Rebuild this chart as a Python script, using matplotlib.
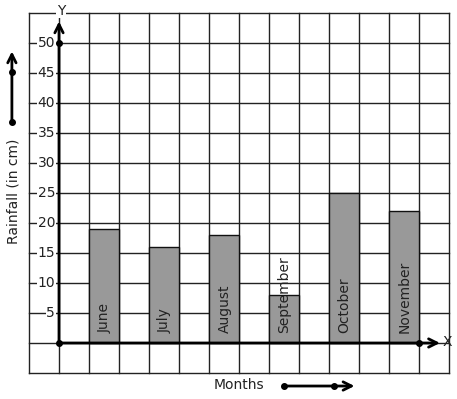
import matplotlib
matplotlib.use("Agg")
import matplotlib.pyplot as plt
import numpy as np

months = ["June", "July", "August", "September", "October", "November"]
rainfall = [19, 16, 18, 8, 25, 22]
y_tick_values = [5, 10, 15, 20, 25, 30, 35, 40, 45, 50]

W, H = 457, 399
fig = plt.figure(figsize=(W / 100, H / 100), dpi=100)
# data area: x -1..13 -> px 29..449 ; y -5..55 -> px 373..13
ax = fig.add_axes([29 / W, (H - 373) / H, 420 / W, 360 / H])
ax.set_xlim(-1, 13)
ax.set_ylim(-5, 55)

gc = "#222222"
for xv in range(-1, 14):
    ax.axvline(xv, color=gc, lw=1, zorder=1, clip_on=False)
for yv in range(-5, 56, 5):
    ax.axhline(yv, color=gc, lw=1, zorder=1, clip_on=False)
for s in ax.spines.values():
    s.set_visible(False)
ax.set_xticks([])
ax.set_yticks([])

# bars
xpos = [1.5 + 2 * i for i in range(len(months))]
ax.bar(xpos, rainfall, width=1.0, color="#999999", edgecolor="#111111",
       linewidth=1, zorder=2)
for x, m in zip(xpos, months):
    ax.text(x + 0.02, 1.6, m, rotation=90, ha="center", va="bottom",
            fontsize=10, color="#222222", zorder=5)

# y tick labels with white background
for v in y_tick_values:
    ax.text(-0.13, v, str(v), ha="right", va="center", fontsize=10,
            color="#222222", zorder=4,
            bbox=dict(facecolor="white", edgecolor="none", pad=0.3))

# axes arrows
ap = dict(arrowstyle="->", lw=2, color="black", shrinkA=0, shrinkB=0,
          mutation_scale=15)
ax.annotate("", xy=(0, 53.6), xytext=(0, 0), arrowprops=ap, zorder=6,
            annotation_clip=False)
ax.annotate("", xy=(12.7, 0), xytext=(0, 0), arrowprops=ap, zorder=6,
            annotation_clip=False)
ax.plot([0, 0, 12], [0, 50, 0], "o", color="black", ms=4, zorder=7,
        clip_on=False)
ax.text(0.07, 55.4, "Y", ha="center", va="center", fontsize=10,
        color="#222222", zorder=8,
        bbox=dict(facecolor="white", edgecolor="none", pad=0.5))
ax.text(12.93, 0.1, "X", ha="center", va="center", fontsize=10,
        color="#222222", zorder=8)

# left indicator arrow
ax.annotate("", xy=(-1.57, 48.6), xytext=(-1.57, 36.8), arrowprops=ap,
            annotation_clip=False)
ax.plot([-1.57, -1.57], [36.8, 45.2], "o", color="black", ms=4,
        clip_on=False)
ax.text(-1.53, 25.2, "Rainfall (in cm)", rotation=90, ha="center",
        va="center", fontsize=10, color="#222222")

# bottom indicator arrow
ax.annotate("", xy=(9.85, -7.17), xytext=(7.5, -7.17), arrowprops=ap,
            annotation_clip=False)
ax.plot([7.5, 9.17], [-7.17, -7.17], "o", color="black", ms=4,
        clip_on=False)
ax.text(6.0, -7.0, "Months", ha="center", va="center", fontsize=10,
        color="#222222")

fig.savefig("out.png", dpi=100)
